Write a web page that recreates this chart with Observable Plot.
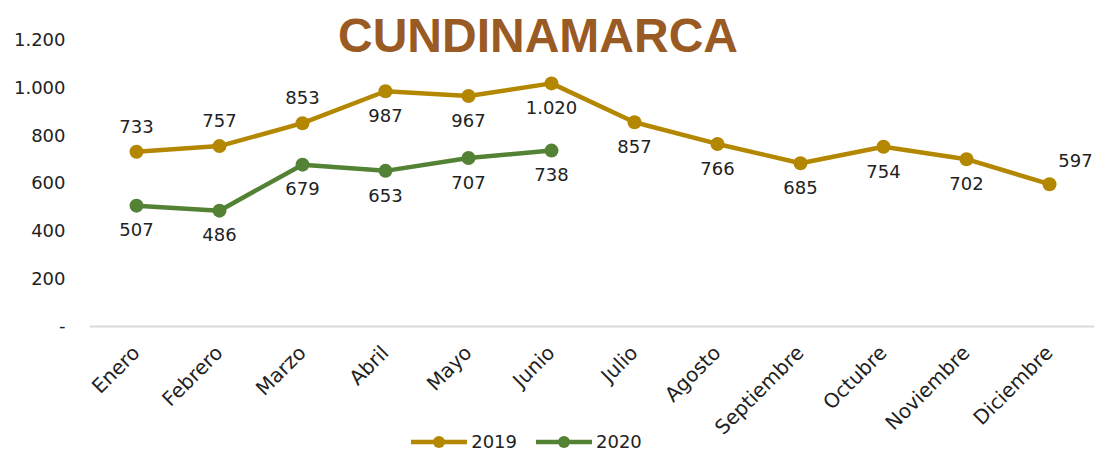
<!DOCTYPE html>
<html>
<head>
<meta charset="utf-8">
<script src="https://cdn.jsdelivr.net/npm/d3@7"></script>
<script src="https://cdn.jsdelivr.net/npm/@observablehq/plot@0.6"></script>
<style>
  html, body { margin: 0; padding: 0; background: #ffffff; }
  #wrap { position: relative; width: 1094px; height: 452px; overflow: hidden; font-family: "DejaVu Sans", sans-serif; }
  #title { position: absolute; left: 0; width: 1076px; top: 8px; text-align: center; font-family: "Liberation Sans", Arial, sans-serif; font-weight: bold; font-size: 48px; color: #9A5A24; letter-spacing: 0px; }
  #legend { position: absolute; left: 0; width: 1052px; top: 431px; display: flex; justify-content: center; gap: 18px; font-size: 18px; color: #222; }
  .item { display: flex; align-items: center; gap: 3px; }
  #chart { position: absolute; left: 0; top: 0; }
</style>
</head>
<body>
<div id="wrap">
  <div id="chart"></div>
  <div id="title">CUNDINAMARCA</div>
  <div id="legend"></div>
</div>
<script>
const months = ["Enero","Febrero","Marzo","Abril","Mayo","Junio","Julio","Agosto","Septiembre","Octubre","Noviembre","Diciembre"];
const values2019 = [733, 757, 853, 987, 967, 1020, 857, 766, 685, 754, 702, 597];
const values2020 = [507, 486, 679, 653, 707, 738];
const seriesNames = ["2019", "2020"];
const seriesColors = ["#B48700", "#548235"];
const yTicks = [0, 200, 400, 600, 800, 1000, 1200];

const locale = d3.formatLocale({decimal: ",", thousands: ".", grouping: [3], currency: ["$", ""]});
const fmt = locale.format(",");
const tickFmt = d => d === 0 ? "-" : fmt(d);

const data = [
  ...values2019.map((v, i) => ({month: months[i], value: v, series: "2019", i, n: values2019.length})),
  ...values2020.map((v, i) => ({month: months[i], value: v, series: "2020", i, n: values2020.length}))
];
const above = data.filter(d => d.series === "2019" && d.i < 3);
const right = data.filter(d => d.series === "2019" && d.i === d.n - 1);
const below = data.filter(d => !(d.series === "2019" && (d.i < 3 || d.i === d.n - 1)));

const chart = Plot.plot({
  width: 1094,
  height: 452,
  marginTop: 40,
  marginBottom: 126,
  marginLeft: 90,
  marginRight: 0,
  style: {fontFamily: "DejaVu Sans, sans-serif", fontSize: "18px", color: "#222", background: "transparent", overflow: "visible"},
  x: {type: "point", domain: months, padding: 0.52, label: null},
  y: {domain: [0, 1200], label: null},
  color: {domain: seriesNames, range: seriesColors},
  marks: [
    Plot.ruleY([0], {stroke: "#d9d9d9", strokeWidth: 2}),
    Plot.axisY({ticks: yTicks, tickSize: 0, tickPadding: 25, tickFormat: tickFmt, fontSize: 18, label: null}),
    Plot.axisX({tickRotate: -45, tickSize: 0, tickPadding: 23, fontSize: 20, label: null}),
    Plot.line(data, {x: "month", y: "value", z: "series", stroke: "series", strokeWidth: 4.5}),
    Plot.dot(data, {x: "month", y: "value", fill: "series", r: 7}),
    Plot.text(above, {x: "month", y: "value", text: d => fmt(d.value), dy: -25, fontSize: 18, fill: "#222"}),
    Plot.text(below, {x: "month", y: "value", text: d => fmt(d.value), dy: 25, fontSize: 18, fill: "#222"}),
    Plot.text(right, {x: "month", y: "value", text: d => fmt(d.value), dx: 26, dy: -23, fontSize: 18, fill: "#222"})
  ]
});
document.getElementById("chart").appendChild(chart);

const legend = document.getElementById("legend");
seriesNames.forEach((name, k) => {
  const item = document.createElement("div");
  item.className = "item";
  item.innerHTML = `<svg width="58" height="16"><line x1="1" y1="8" x2="57" y2="8" stroke="${seriesColors[k]}" stroke-width="4.5"/><circle cx="29" cy="8" r="6" fill="${seriesColors[k]}"/></svg><span>${name}</span>`;
  legend.appendChild(item);
});
</script>
</body>
</html>
